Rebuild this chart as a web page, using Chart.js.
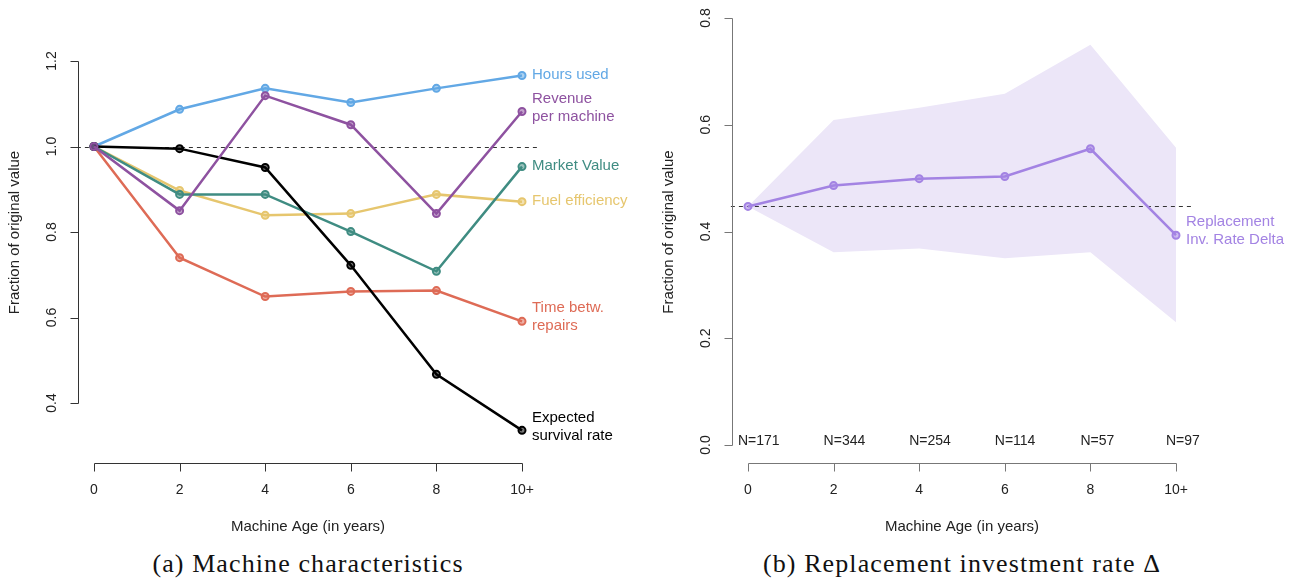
<!DOCTYPE html>
<html>
<head>
<meta charset="utf-8">
<title>Machine age</title>
<script src="https://cdn.jsdelivr.net/npm/chart.js@4.4.1/dist/chart.umd.min.js"></script>
<style>
  body { margin: 0; background: #fff; }
  #page { position: relative; width: 1300px; height: 585px; overflow: hidden; }
  .panel { position: absolute; top: 0; width: 650px; height: 540px; }
  .caption {
    position: absolute; top: 549px;
    font-family: 'Liberation Serif', 'DejaVu Serif', serif;
    font-size: 26px; letter-spacing: 1.1px; color: #111; text-align: center; white-space: nowrap;
  }
</style>
</head>
<body>
<div id="page">
  <div class="panel" style="left:0"><canvas id="chart-a" width="650" height="540"></canvas></div>
  <div class="panel" style="left:650px"><canvas id="chart-b" width="650" height="540"></canvas></div>
  <div class="caption" style="left:0; width:616px">(a) Machine characteristics</div>
  <div class="caption" style="left:650px; width:624px">(b) Replacement investment rate Δ</div>
</div>
<script>
// Machine age buckets (years)
const ages = [0, 2, 4, 6, 8, 10];
const ageLabels = ['0', '2', '4', '6', '8', '10+'];

// Panel (a): fraction of value at age 0
const hoursUsed = [1.000, 1.087, 1.136, 1.103, 1.136, 1.166];
const revenuePerMachine = [1.000, 0.850, 1.119, 1.051, 0.843, 1.082];
const marketValue = [1.000, 0.888, 0.888, 0.801, 0.708, 0.953];
const fuelEfficiency = [1.000, 0.897, 0.839, 0.843, 0.888, 0.871];
const timeBetweenRepairs = [1.000, 0.740, 0.649, 0.661, 0.663, 0.591];
const survivalRate = [1.000, 0.995, 0.951, 0.722, 0.467, 0.336];
const ticksA = [0.4, 0.6, 0.8, 1.0, 1.2];

// Panel (b): replacement investment rate and its band
const replacementRate = [0.447, 0.486, 0.499, 0.503, 0.555, 0.393];
const replacementUpper = [0.447, 0.609, 0.632, 0.658, 0.750, 0.557];
const replacementLower = [0.447, 0.361, 0.368, 0.350, 0.361, 0.230];
const sampleSizes = [171, 344, 254, 114, 57, 97];
const ticksB = [0.0, 0.2, 0.4, 0.6, 0.8];

const SANS = "'Liberation Sans', Arial, Helvetica, sans-serif";

function toPoints(values) {
  return values.map((v, i) => ({ x: ages[i], y: v }));
}

function lineSeries(label, values, color, text) {
  return {
    label: label,
    data: toPoints(values),
    borderColor: color,
    backgroundColor: color + '99',
    borderWidth: 2.5,
    pointRadius: 3.5,
    pointBorderWidth: 2,
    pointBorderColor: color,
    pointBackgroundColor: color + '88',
    tension: 0,
    clip: false,
    endLabel: text
  };
}

// Base-R looking axes, reference line and end-of-line labels
const rStylePlot = {
  id: 'rStylePlot',
  // datasets are painted from the last index to the first, so the dashed
  // line goes in just before the chosen dataset (after any band fill)
  beforeDatasetDraw(chart, args, opts) {
    if (args.index !== opts.refBefore) return;
    const { ctx, scales: { x, y } } = chart;
    const py = Math.round(y.getPixelForValue(opts.refLine)) + 0.5;
    ctx.save();
    ctx.strokeStyle = '#333';
    ctx.lineWidth = 1;
    ctx.setLineDash([4, 4]);
    ctx.beginPath();
    ctx.moveTo(x.getPixelForValue(-0.4), py);
    ctx.lineTo(x.getPixelForValue(10.4), py);
    ctx.stroke();
    ctx.restore();
  },
  afterDatasetsDraw(chart, args, opts) {
    const { ctx, scales: { x, y } } = chart;
    ctx.save();
    ctx.font = '15px ' + SANS;
    ctx.textAlign = 'left';
    ctx.textBaseline = 'middle';
    chart.data.datasets.forEach(ds => {
      if (!ds.endLabel) return;
      const last = ds.data[ds.data.length - 1];
      const px = x.getPixelForValue(last.x) + 10;
      const py = y.getPixelForValue(last.y);
      const lines = ds.endLabel;
      const top = lines.length > 1 ? py - 13 : py - 1;
      ctx.fillStyle = ds.borderColor;
      lines.forEach((t, k) => ctx.fillText(t, px, top + k * 18));
    });
    ctx.restore();
  },
  afterDraw(chart, args, opts) {
    const { ctx, scales: { x, y } } = chart;
    const axisX = Math.round(x.getPixelForValue(-0.4)) + 1.5;
    const axisY = chart.height - 77 + 0.5;
    ctx.save();
    ctx.strokeStyle = opts.axisColor;
    ctx.lineWidth = 1;
    ctx.fillStyle = '#222';
    ctx.font = '14px ' + SANS;

    // y axis
    const yTop = Math.round(y.getPixelForValue(opts.yTicks[opts.yTicks.length - 1])) + 0.5;
    const yBot = Math.round(y.getPixelForValue(opts.yTicks[0])) + 0.5;
    ctx.beginPath();
    ctx.moveTo(axisX, yTop);
    ctx.lineTo(axisX, yBot);
    opts.yTicks.forEach(t => {
      const py = Math.round(y.getPixelForValue(t)) + 0.5;
      ctx.moveTo(axisX, py);
      ctx.lineTo(axisX - 8, py);
    });
    ctx.stroke();
    ctx.textAlign = 'center';
    ctx.textBaseline = 'middle';
    opts.yTicks.forEach(t => {
      const py = y.getPixelForValue(t);
      ctx.save();
      ctx.translate(axisX - 26, py);
      ctx.rotate(-Math.PI / 2);
      ctx.fillText(t.toFixed(1), 0, 0);
      ctx.restore();
    });

    // x axis
    const xLeft = Math.round(x.getPixelForValue(ages[0])) + 0.5;
    const xRight = Math.round(x.getPixelForValue(ages[ages.length - 1])) + 0.5;
    ctx.beginPath();
    ctx.moveTo(xLeft, axisY);
    ctx.lineTo(xRight, axisY);
    ages.forEach(a => {
      const px = Math.round(x.getPixelForValue(a)) + 0.5;
      ctx.moveTo(px, axisY);
      ctx.lineTo(px, axisY + 8);
    });
    ctx.stroke();
    ages.forEach((a, i) => {
      ctx.fillText(ageLabels[i], x.getPixelForValue(a), axisY + 27);
    });

    // sample sizes along the bottom
    if (opts.counts) {
      ctx.textAlign = 'left';
      opts.counts.forEach((n, i) => {
        ctx.fillText('N=' + n, x.getPixelForValue(ages[i]) - 10, axisY - 22);
      });
      ctx.textAlign = 'center';
    }

    // axis titles
    ctx.font = '15px ' + SANS;
    ctx.fillText('Machine Age (in years)',
      (x.getPixelForValue(-0.4) + x.getPixelForValue(10.4)) / 2, axisY + 63);
    ctx.save();
    ctx.translate(axisX - 64, (yTop + yBot) / 2);
    ctx.rotate(-Math.PI / 2);
    ctx.fillText('Fraction of original value', 0, 0);
    ctx.restore();
    ctx.restore();
  }
};

function baseOptions(padding, yMin, yMax, pluginOpts) {
  return {
    responsive: false,
    animation: false,
    events: [],
    layout: { padding: padding },
    plugins: {
      legend: { display: false },
      tooltip: { enabled: false },
      rStylePlot: pluginOpts
    },
    scales: {
      x: { type: 'linear', min: 0, max: 10, display: false },
      y: { type: 'linear', min: yMin, max: yMax, display: false }
    }
  };
}

// 0.2 of value spans 85.5px; the area runs down to 0.3 so every marker is kept
new Chart(document.getElementById('chart-a'), {
  type: 'line',
  data: {
    datasets: [
      lineSeries('Revenue per machine', revenuePerMachine, '#8E52A0', ['Revenue', 'per machine']),
      lineSeries('Expected survival rate', survivalRate, '#000000', ['Expected', 'survival rate']),
      lineSeries('Hours used', hoursUsed, '#62A8E5', ['Hours used']),
      lineSeries('Market Value', marketValue, '#3F8C82', ['Market Value']),
      lineSeries('Fuel efficiency', fuelEfficiency, '#E6C66E', ['Fuel efficiency']),
      lineSeries('Time betw. repairs', timeBetweenRepairs, '#DE6B56', ['Time betw.', 'repairs'])
    ]
  },
  options: baseOptions({ left: 94, right: 128, top: 61, bottom: 94.25 }, 0.3, 1.2,
    { refLine: 1.0, refBefore: 5, yTicks: ticksA, axisColor: '#333' }),
  plugins: [rStylePlot]
});

new Chart(document.getElementById('chart-b'), {
  type: 'line',
  data: {
    datasets: [
      lineSeries('Replacement Inv. Rate Delta', replacementRate, '#A383E3', ['Replacement', 'Inv. Rate Delta']),
      {
        label: 'upper',
        data: toPoints(replacementUpper),
        borderWidth: 0,
        pointRadius: 0,
        tension: 0,
        clip: false,
        backgroundColor: '#ECE6F8',
        fill: '+1'
      },
      {
        label: 'lower',
        data: toPoints(replacementLower),
        borderWidth: 0,
        pointRadius: 0,
        tension: 0,
        clip: false,
        fill: false
      }
    ]
  },
  options: baseOptions({ left: 98, right: 124, top: 18, bottom: 95 }, 0.0, 0.8,
    { refLine: replacementRate[0], refBefore: 0, yTicks: ticksB, axisColor: '#777', counts: sampleSizes }),
  plugins: [rStylePlot]
});
</script>
</body>
</html>
